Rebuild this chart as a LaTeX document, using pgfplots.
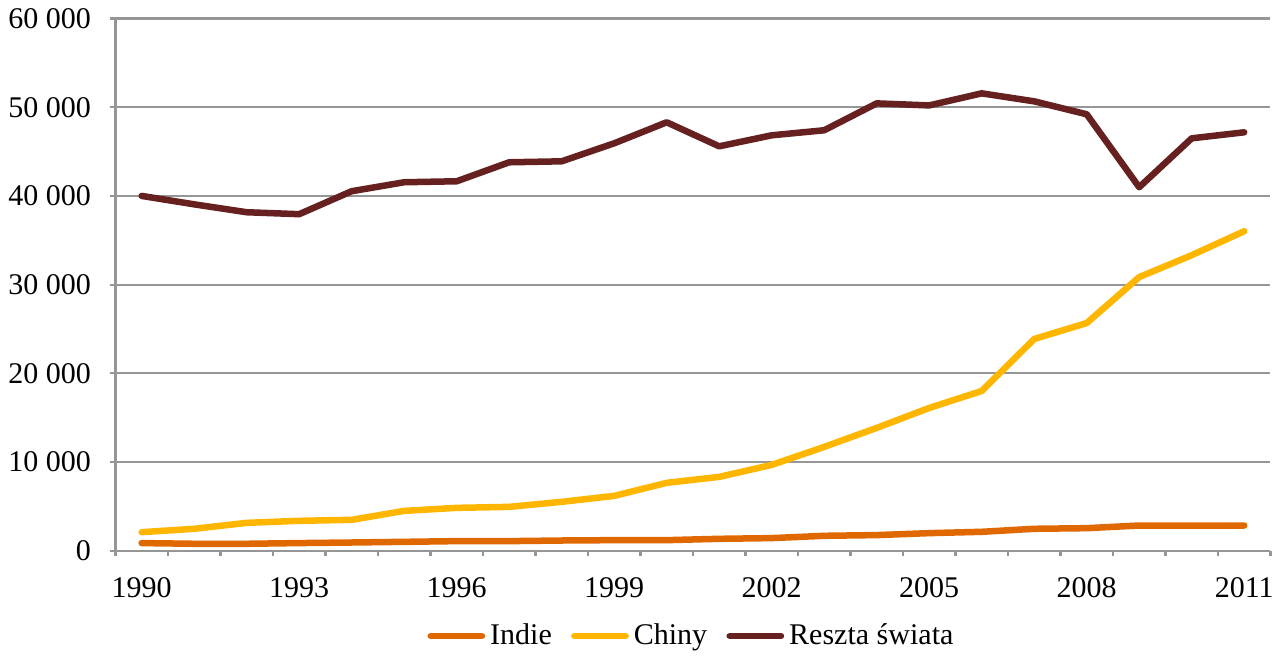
\documentclass[border=0pt]{standalone}
\usepackage{pgfplots}
\pgfplotsset{compat=1.18}
\usepackage{fontspec}
\setmainfont{Liberation Serif}
\definecolor{indie}{RGB}{224,104,0}
\definecolor{chiny}{RGB}{255,182,0}
\definecolor{reszta}{RGB}{102,32,32}
\definecolor{axgray}{RGB}{150,150,150}

\begin{document}
\begin{tikzpicture}
\begin{axis}[
  width=16.23cm, height=7.48cm,
  scale only axis,
  xmin=1989.5, xmax=2011.5,
  ymin=0, ymax=60000,
  axis x line*=bottom, axis y line*=left,
  axis line style={axgray, line width=0.9pt},
  xtick={1989.5,1990.5,...,2011.5},
  xticklabels={},
  extra x ticks={1990,1993,1996,1999,2002,2005,2008,2011},
  extra x tick labels={1990,1993,1996,1999,2002,2005,2008,2011},
  extra x tick style={major tick length=0pt, grid=none},
  x tick label style={yshift=-7pt},
  y tick label style={xshift=-4pt},
  ytick={0,10000,...,60000},
  ymajorgrids,
  grid style={axgray, line width=0.9pt},
  tick style={axgray, line width=0.9pt},
  tick align=outside,
  major tick length=0.08cm,
  scaled y ticks=false,
  /pgf/number format/.cd, 1000 sep={\ }, assume math mode=true, /pgfplots/.cd,
  tick label style={font=\fontsize{12}{14}\selectfont},
  legend style={at={(0.5,-0.16)}, anchor=center, draw=none, legend columns=3,
    font=\fontsize{12}{14}\selectfont, /tikz/every even column/.append style={column sep=0.2cm}},
  legend image code/.code={\draw[#1, line cap=round] (0cm,0cm) -- (0.72cm,0cm);},
  every axis plot/.append style={line width=2.6pt, line join=round, line cap=round},
]
\addplot[indie] coordinates {
(1990,870) (1991,790) (1992,790) (1993,870) (1994,935) (1995,1010) (1996,1090)
(1997,1090) (1998,1160) (1999,1200) (2000,1200) (2001,1350) (2002,1430) (2003,1690)
(2004,1770) (2005,1990) (2006,2140) (2007,2480) (2008,2550) (2009,2850) (2010,2850) (2011,2850)
};
\addlegendentry{Indie}
\addplot[chiny] coordinates {
(1990,2100) (1991,2480) (1992,3150) (1993,3380) (1994,3490) (1995,4500) (1996,4840)
(1997,4950) (1998,5520) (1999,6190) (2000,7660) (2001,8330) (2002,9680) (2003,11710)
(2004,13850) (2005,16100) (2006,18010) (2007,23870) (2008,25670) (2009,30850) (2010,33320) (2011,36020)
};
\addlegendentry{Chiny}
\addplot[reszta] coordinates {
(1990,40000) (1991,39050) (1992,38160) (1993,37940) (1994,40530) (1995,41540) (1996,41650)
(1997,43790) (1998,43900) (1999,45930) (2000,48300) (2001,45590) (2002,46830) (2003,47400)
(2004,50430) (2005,50200) (2006,51560) (2007,50660) (2008,49200) (2009,40980) (2010,46490) (2011,47170)
};
\addlegendentry{Reszta świata}
\end{axis}
\end{tikzpicture}
\end{document}
